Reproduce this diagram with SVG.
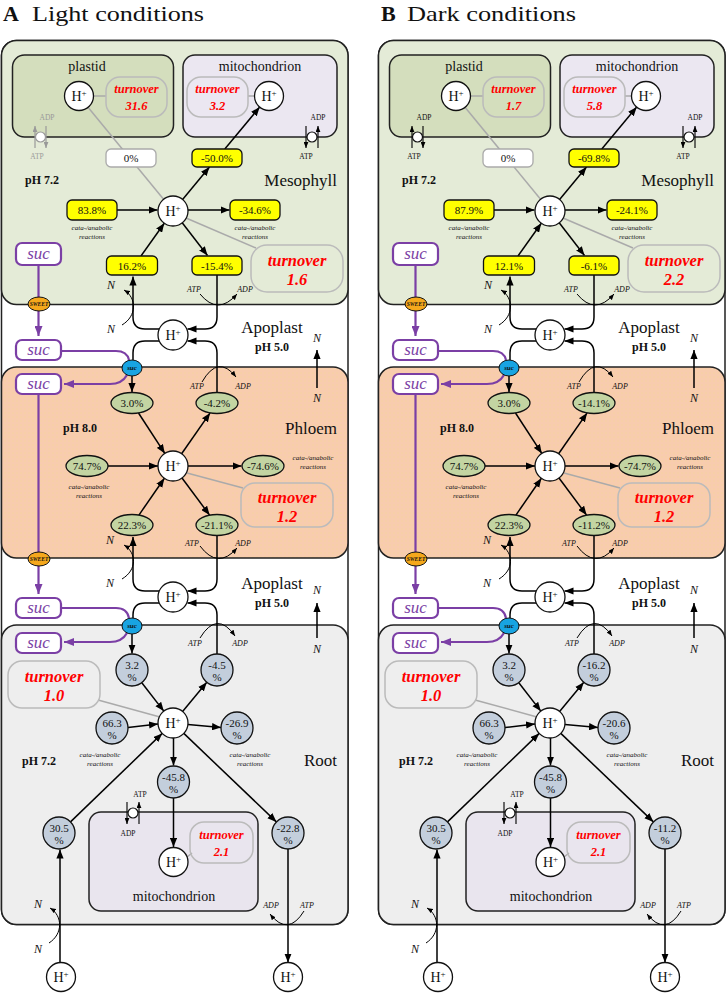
<svg xmlns="http://www.w3.org/2000/svg" width="726" height="993" viewBox="0 0 726 993">
<style>
text{font-family:"Liberation Serif","DejaVu Serif",serif;fill:#111}
.ti{font-size:22px}
.cmp{font-size:14px;text-anchor:middle}
.big{font-size:17px}
.ph{font-size:12px;font-weight:bold}
.v{font-size:11px;text-anchor:middle}
.ca{font-size:7px;font-style:italic;text-anchor:middle}
.n{font-size:12px;font-style:italic;text-anchor:middle}
.at{font-size:8px;font-style:italic;text-anchor:middle}
.tp{font-size:7.5px;text-anchor:middle}
.h{font-size:14px;text-anchor:middle}
.ts{font-size:12.5px;font-weight:bold;font-style:italic;fill:#f00;text-anchor:middle}
.tb{font-size:16.5px;font-weight:bold;font-style:italic;fill:#f00;text-anchor:middle}
.su{font-size:17px;font-style:italic;fill:#7b3fa5;text-anchor:middle}
.ss{font-size:5.5px;font-style:italic;font-weight:bold;text-anchor:middle}
.sb{font-size:7px;font-style:italic;font-weight:bold;text-anchor:middle}
.hc{fill:#fff;stroke:#111;stroke-width:1.3}
.yb{fill:#ffff00;stroke:#111;stroke-width:1.3}
.gb{fill:#fff;stroke:#aaa;stroke-width:1.3}
.ge{fill:#c3d4a2;stroke:#111;stroke-width:1.3}
.bc{fill:#c3cedc;stroke:#111;stroke-width:1.3}
.tob{fill:none;stroke:#bbb;stroke-width:1.5}
.c{fill:none;stroke:#000;stroke-width:1.5}
.ar{fill:none;stroke:#000;stroke-width:1}
.gl{fill:none;stroke:#aaa;stroke-width:1.5}
.pu{fill:none;stroke:#7b3fa5;stroke-width:2.2}
.pb{fill:#fff;stroke:#7b3fa5;stroke-width:2.2}
.bd{stroke:#222;stroke-width:1.5}
</style>
<defs>
<marker id="a" viewBox="0 0 10 8" refX="10" refY="4" markerWidth="9" markerHeight="7.5" markerUnits="userSpaceOnUse" orient="auto"><path d="M0,0L10,4L0,8z" fill="#000"/></marker>
<marker id="s" viewBox="0 0 10 8" refX="10" refY="4" markerWidth="6" markerHeight="5" markerUnits="userSpaceOnUse" orient="auto"><path d="M0,0L10,4L0,8z" fill="#000"/></marker>
<marker id="g" viewBox="0 0 10 8" refX="10" refY="4" markerWidth="6" markerHeight="5" markerUnits="userSpaceOnUse" orient="auto"><path d="M0,0L10,4L0,8z" fill="#999"/></marker>
<marker id="p" viewBox="0 0 10 8" refX="10" refY="4" markerWidth="10" markerHeight="8" markerUnits="userSpaceOnUse" orient="auto"><path d="M0,0L10,4L0,8z" fill="#7b3fa5"/></marker>
<pattern id="dots" width="4" height="4" patternUnits="userSpaceOnUse"><rect width="4" height="4" fill="#f8ccae"/><circle cx="1" cy="1" r="0.45" fill="#f3e27a"/></pattern>
</defs>
<rect width="726" height="993" fill="#fff"/>
<text class="ti" x="3" y="21" font-weight="bold">A</text>
<text class="ti" x="32" y="21" textLength="172" lengthAdjust="spacingAndGlyphs">Light conditions</text>
<text class="ti" x="381" y="21" font-weight="bold">B</text>
<text class="ti" x="407" y="21" textLength="169" lengthAdjust="spacingAndGlyphs">Dark conditions</text>

<!-- ================= PANEL A ================= -->
<g id="panelA">
<g id="A-compartments">
<rect class="bd" x="1.5" y="40.5" width="346.5" height="884" rx="15" fill="#fff"/>
<rect class="bd" x="1.5" y="40.5" width="346.5" height="264" rx="15" fill="#e4ebd7"/>
<rect class="bd" x="1.5" y="367" width="346.5" height="191" rx="15" fill="url(#dots)"/>
<rect class="bd" x="1.5" y="625" width="346.5" height="299.5" rx="15" fill="#eeeeee"/>
<rect class="bd" x="12.5" y="55" width="161" height="82" rx="12" fill="#d4debd"/>
<rect class="bd" x="183" y="55" width="154" height="82" rx="12" fill="#ebe7f1"/>
<rect class="bd" x="89" y="812" width="169" height="99" rx="12" fill="#e9e5ee"/>
<text class="cmp" x="87" y="71">plastid</text>
<text class="cmp" x="260" y="71">mitochondrion</text>
<text class="cmp" x="174" y="901">mitochondrion</text>
<text class="ph" x="25" y="184">pH 7.2</text>
<text class="big" x="337" y="186" text-anchor="end">Mesophyll</text>
<text class="big" x="272" y="333" text-anchor="middle">Apoplast</text>
<text class="ph" x="272" y="351" text-anchor="middle">pH 5.0</text>
<text class="ph" x="63" y="432">pH 8.0</text>
<text class="big" x="337" y="434" text-anchor="end">Phloem</text>
<text class="big" x="272" y="589" text-anchor="middle">Apoplast</text>
<text class="ph" x="272" y="607" text-anchor="middle">pH 5.0</text>
<text class="ph" x="22" y="765">pH 7.2</text>
<text class="big" x="337" y="766" text-anchor="end">Root</text>
</g>
<g id="A-connectors">
<line class="gl" x1="87" y1="106" x2="165" y2="201"/>
<line class="gl" x1="93.5" y1="96" x2="106" y2="96"/>
<line class="gl" x1="248" y1="96" x2="254.5" y2="96"/>
<line class="gl" x1="186" y1="218" x2="256" y2="248"/>
<line class="gl" x1="187" y1="473" x2="243" y2="488"/>
<line class="gl" x1="98" y1="700" x2="160" y2="717"/>
<line class="gl" x1="187" y1="857" x2="192" y2="853"/>
<path class="c" d="M182.6,199.5L209.5,167" marker-end="url(#a)"/>
<path class="c" d="M224.8,149L259.7,107.1" marker-end="url(#a)"/>
<path class="c" d="M117,210H157.5" marker-end="url(#a)"/>
<path class="c" d="M188,210H229.5" marker-end="url(#a)"/>
<path class="c" d="M141,256L164.3,223.2" marker-end="url(#a)"/>
<path class="c" d="M182.2,222.8L207.5,255.5" marker-end="url(#a)"/>
<path class="c" d="M159,329H145Q133,329 133,317V276.5" marker-end="url(#a)"/>
<path class="c" d="M217,275V317Q217,329 205,329H187.5" marker-end="url(#a)"/>
<path class="c" d="M159,341H145Q133,341 133,353V360"/>
<path class="c" d="M217,392.5V353Q217,341 205,341H187.5" marker-end="url(#a)"/>
<path class="c" d="M132,376V392" marker-end="url(#a)"/>
<path class="c" d="M138.5,413L164.8,453.4" marker-end="url(#a)"/>
<path class="c" d="M181.6,453.7L210.1,412.9" marker-end="url(#a)"/>
<path class="c" d="M108,466H158" marker-end="url(#a)"/>
<path class="c" d="M188,466H241.5" marker-end="url(#a)"/>
<path class="c" d="M138.9,515.1L164.4,478.3" marker-end="url(#a)"/>
<path class="c" d="M182,478L209.6,515.1" marker-end="url(#a)"/>
<path class="c" d="M159,591H145Q133,591 133,579V537" marker-end="url(#a)"/>
<path class="c" d="M217,535.5V579Q217,591 205,591H187.5" marker-end="url(#a)"/>
<path class="c" d="M159,603H145Q133,603 133,615V618"/>
<path class="c" d="M217,654V615Q217,603 205,603H187.5" marker-end="url(#a)"/>
<path class="c" d="M132,634V653.5" marker-end="url(#a)"/>
<path class="c" d="M141.8,682.7L163.8,711.1" marker-end="url(#a)"/>
<path class="c" d="M182.6,711.5L206.8,682.3" marker-end="url(#a)"/>
<path class="c" d="M128,727.5L158,724" marker-end="url(#a)"/>
<path class="c" d="M188,724.5L221,727.5" marker-end="url(#a)"/>
<path class="c" d="M173.5,738V765.5" marker-end="url(#a)"/>
<path class="c" d="M173.5,798V847" marker-end="url(#a)"/>
<path class="c" d="M70.5,821.9L162.2,733.4" marker-end="url(#a)"/>
<path class="c" d="M183.8,733.4L276.4,821.9" marker-end="url(#a)"/>
<path class="c" d="M60,963V849.5" marker-end="url(#a)"/>
<path class="c" d="M288,849V962.5" marker-end="url(#a)"/>
<path class="c" d="M317,388V350" marker-end="url(#a)"/>
<path class="c" d="M317,638V603" marker-end="url(#a)"/>
<path class="ar" d="M200,294Q218,316 237,294" marker-end="url(#s)"/>
<path class="ar" d="M202,382Q218,354 236,377" marker-end="url(#s)"/>
<path class="ar" d="M200,546Q218,570 237,548" marker-end="url(#s)"/>
<path class="ar" d="M200,638Q217,610 235,636" marker-end="url(#s)"/>
<path class="ar" d="M304,911Q288,937 270,914" marker-end="url(#s)"/>
<path class="ar" d="M122,325C137,316 137,298 124,290" marker-end="url(#s)"/>
<path class="ar" d="M122,579C137,570 137,553 124,545" marker-end="url(#s)"/>
<path class="ar" d="M49,943C63,934 63,916 50,908" marker-end="url(#s)"/>
<path class="pu" d="M38.5,265V336" marker-end="url(#p)"/>
<path class="pu" d="M61,351H116Q127,351 129,360"/>
<path class="pu" d="M127,375Q122,384 110,384H64" marker-end="url(#p)"/>
<path class="pu" d="M38.5,394V594" marker-end="url(#p)"/>
<path class="pu" d="M61,608H116Q127,608 129,618"/>
<path class="pu" d="M127,633Q122,642 110,642H64" marker-end="url(#p)"/>
</g>
<g id="A-labels">
<text class="n" x="111" y="289">N</text><text class="n" x="111" y="333">N</text>
<text class="n" x="110" y="544">N</text><text class="n" x="110" y="587">N</text>
<text class="n" x="38" y="908">N</text><text class="n" x="38" y="953">N</text>
<text class="n" x="317" y="342">N</text><text class="n" x="317" y="402">N</text>
<text class="n" x="317" y="594">N</text><text class="n" x="317" y="653">N</text>
<text class="at" x="194" y="292">ATP</text><text class="at" x="245" y="292">ADP</text>
<text class="at" x="197" y="389">ATP</text><text class="at" x="243" y="389">ADP</text>
<text class="at" x="192" y="546">ATP</text><text class="at" x="243" y="546">ADP</text>
<text class="at" x="195" y="646">ATP</text><text class="at" x="240" y="646">ADP</text>
<text class="at" x="271" y="908">ADP</text><text class="at" x="307" y="908">ATP</text>
<text class="ca" x="92" y="230">cata-/anabolic</text><text class="ca" x="92" y="239">reactions</text>
<text class="ca" x="255" y="230">cata-/anabolic</text><text class="ca" x="255" y="239">reactions</text>
<text class="ca" x="89" y="489">cata-/anabolic</text><text class="ca" x="89" y="498">reactions</text>
<text class="ca" x="313" y="460">cata-/anabolic</text><text class="ca" x="313" y="469">reactions</text>
<text class="ca" x="100" y="757">cata-/anabolic</text><text class="ca" x="100" y="766">reactions</text>
<text class="ca" x="250" y="757">cata-/anabolic</text><text class="ca" x="250" y="766">reactions</text>
</g>
<g id="A-transporters">
<g id="A-tp-plastid" stroke="#999" stroke-width="1.2"><line x1="35" y1="148" x2="35" y2="126" marker-end="url(#g)"/><line x1="46" y1="126" x2="46" y2="148" marker-end="url(#g)"/><circle cx="40.5" cy="137" r="5" fill="#fff"/></g>
<text class="tp" x="47" y="120" style="fill:#999">ADP</text><text class="tp" x="37" y="159" style="fill:#999">ATP</text>
<g id="A-tp-mito" stroke="#111" stroke-width="1.2"><line x1="306" y1="126" x2="306" y2="148" marker-end="url(#s)"/><line x1="318" y1="148" x2="318" y2="126" marker-end="url(#s)"/><circle cx="312" cy="137" r="5" fill="#fff"/></g>
<text class="tp" x="318" y="120">ADP</text><text class="tp" x="306" y="159">ATP</text>
<g id="A-tp-root" stroke="#111" stroke-width="1.2"><line x1="127" y1="802" x2="127" y2="824" marker-end="url(#s)"/><line x1="139" y1="824" x2="139" y2="802" marker-end="url(#s)"/><circle cx="133" cy="813" r="5" fill="#fff"/></g>
<text class="tp" x="140" y="797">ATP</text><text class="tp" x="128" y="836">ADP</text>
</g>
<g id="A-nodes">
<g id="A-hp"><circle class="hc" cx="79" cy="96" r="14.5"/><text class="h" x="79" y="101">H<tspan font-size="9" dy="-5">+</tspan></text></g>
<g id="A-tp"><rect class="tob" x="106" y="77" width="61" height="40" rx="14"/><text class="ts" x="136.5" y="93">turnover</text><text class="ts" x="136.5" y="110">31.6</text></g>
<g id="A-tm"><rect class="tob" x="187" y="77" width="61" height="40" rx="14"/><text class="ts" x="217.5" y="93">turnover</text><text class="ts" x="217.5" y="110">3.2</text></g>
<g id="A-hm"><circle class="hc" cx="269" cy="96" r="14.5"/><text class="h" x="269" y="101">H<tspan font-size="9" dy="-5">+</tspan></text></g>
<g id="A-b0"><rect class="gb" x="106" y="149" width="50" height="18" rx="5"/><text class="v" x="131" y="162">0%</text></g>
<g id="A-b1"><rect class="yb" x="192" y="149" width="50" height="18" rx="5"/><text class="v" x="217" y="162">-50.0%</text></g>
<g id="A-b2"><rect class="yb" x="67" y="200" width="50" height="20" rx="5"/><text class="v" x="92" y="214">83.8%</text></g>
<g id="A-b3"><rect class="yb" x="230" y="200" width="50" height="20" rx="5"/><text class="v" x="255" y="214">-34.6%</text></g>
<g id="A-b4"><rect class="yb" x="106.5" y="256" width="51" height="19" rx="5"/><text class="v" x="132" y="270">16.2%</text></g>
<g id="A-b5"><rect class="yb" x="192" y="256" width="50" height="19" rx="5"/><text class="v" x="217" y="270">-15.4%</text></g>
<g id="A-hmes"><circle class="hc" cx="173" cy="211" r="15"/><text class="h" x="173" y="216">H<tspan font-size="9" dy="-5">+</tspan></text></g>
<g id="A-tmes"><rect class="tob" x="251" y="245" width="92" height="47" rx="16"/><text class="tb" x="297" y="266">turnover</text><text class="tb" x="297" y="285">1.6</text></g>
<g id="A-ha1"><circle class="hc" cx="173" cy="335" r="15"/><text class="h" x="173" y="340">H<tspan font-size="9" dy="-5">+</tspan></text></g>
<g id="A-e1"><ellipse class="ge" cx="132" cy="403" rx="21" ry="10.5"/><text class="v" x="132" y="407">3.0%</text></g>
<g id="A-e2"><ellipse class="ge" cx="217" cy="403" rx="21" ry="10.5"/><text class="v" x="217" y="407">-4.2%</text></g>
<g id="A-e3"><ellipse class="ge" cx="87" cy="466" rx="21" ry="10.5"/><text class="v" x="87" y="470">74.7%</text></g>
<g id="A-e4"><ellipse class="ge" cx="263" cy="466" rx="21" ry="10.5"/><text class="v" x="263" y="470">-74.6%</text></g>
<g id="A-e5"><ellipse class="ge" cx="132" cy="525" rx="21" ry="10.5"/><text class="v" x="132" y="529">22.3%</text></g>
<g id="A-e6"><ellipse class="ge" cx="217" cy="525" rx="21" ry="10.5"/><text class="v" x="217" y="529">-21.1%</text></g>
<g id="A-hph"><circle class="hc" cx="173" cy="466" r="15"/><text class="h" x="173" y="471">H<tspan font-size="9" dy="-5">+</tspan></text></g>
<g id="A-tph"><rect class="tob" x="241" y="483" width="92" height="44" rx="14"/><text class="tb" x="287" y="503">turnover</text><text class="tb" x="287" y="522">1.2</text></g>
<g id="A-ha2"><circle class="hc" cx="173" cy="597" r="15"/><text class="h" x="173" y="602">H<tspan font-size="9" dy="-5">+</tspan></text></g>
<g id="A-troot"><rect class="tob" x="8" y="661" width="92" height="47" rx="14"/><text class="tb" x="54" y="682">turnover</text><text class="tb" x="54" y="701">1.0</text></g>
<g id="A-c1"><circle class="bc" cx="132" cy="670" r="16"/><text class="v" x="132" y="668.5">3.2</text><text class="v" x="132" y="681">%</text></g>
<g id="A-c2"><circle class="bc" cx="217" cy="670" r="16"/><text class="v" x="217" y="668.5">-4.5</text><text class="v" x="217" y="681">%</text></g>
<g id="A-c3"><circle class="bc" cx="112" cy="728" r="16"/><text class="v" x="112" y="726.5">66.3</text><text class="v" x="112" y="739">%</text></g>
<g id="A-c4"><circle class="bc" cx="237" cy="728" r="16"/><text class="v" x="237" y="726.5">-26.9</text><text class="v" x="237" y="739">%</text></g>
<g id="A-c5"><circle class="bc" cx="173.5" cy="782" r="16"/><text class="v" x="173.5" y="780.5">-45.8</text><text class="v" x="173.5" y="793">%</text></g>
<g id="A-c6"><circle class="bc" cx="59" cy="833" r="16"/><text class="v" x="59" y="831.5">30.5</text><text class="v" x="59" y="844">%</text></g>
<g id="A-c7"><circle class="bc" cx="288" cy="833" r="16"/><text class="v" x="288" y="831.5">-22.8</text><text class="v" x="288" y="844">%</text></g>
<g id="A-hroot"><circle class="hc" cx="173" cy="723" r="15"/><text class="h" x="173" y="728">H<tspan font-size="9" dy="-5">+</tspan></text></g>
<g id="A-hrm"><circle class="hc" cx="173.5" cy="862" r="14.5"/><text class="h" x="173.5" y="867">H<tspan font-size="9" dy="-5">+</tspan></text></g>
<g id="A-trm"><rect class="tob" x="190" y="822" width="63" height="41" rx="14"/><text class="ts" x="221.5" y="839">turnover</text><text class="ts" x="221.5" y="856">2.1</text></g>
<g id="A-hb1"><circle class="hc" cx="61" cy="977" r="14.5"/><text class="h" x="61" y="982">H<tspan font-size="9" dy="-5">+</tspan></text></g>
<g id="A-hb2"><circle class="hc" cx="288" cy="977" r="14.5"/><text class="h" x="288" y="982">H<tspan font-size="9" dy="-5">+</tspan></text></g>
<g id="A-suc1"><rect class="pb" x="16" y="243" width="45" height="22" rx="6"/><text class="su" x="38.5" y="259">suc</text></g>
<g id="A-suc2"><rect class="pb" x="16" y="340" width="45" height="20" rx="6"/><text class="su" x="38.5" y="355">suc</text></g>
<g id="A-suc3"><rect class="pb" x="16" y="374" width="45" height="20" rx="6"/><text class="su" x="38.5" y="389">suc</text></g>
<g id="A-suc4"><rect class="pb" x="16" y="598" width="45" height="20" rx="6"/><text class="su" x="38.5" y="613">suc</text></g>
<g id="A-suc5"><rect class="pb" x="16" y="633" width="45" height="20" rx="6"/><text class="su" x="38.5" y="648">suc</text></g>
<g id="A-sw1"><ellipse cx="39" cy="304" rx="11" ry="7" fill="#f5a81c" stroke="#111"/><text class="ss" x="39" y="306">SWEET</text></g>
<g id="A-sw2"><ellipse cx="39" cy="559" rx="11" ry="7" fill="#f5a81c" stroke="#111"/><text class="ss" x="39" y="561">SWEET</text></g>
<g id="A-st1"><ellipse cx="132" cy="368" rx="10" ry="8" fill="#18a4e2" stroke="#111"/><text class="sb" x="132" y="370">suc</text></g>
<g id="A-st2"><ellipse cx="132" cy="626" rx="10" ry="8" fill="#18a4e2" stroke="#111"/><text class="sb" x="132" y="628">suc</text></g>
</g>
</g>

<!-- ================= PANEL B ================= -->
<g id="panelB" transform="translate(377,0)">
<g id="B-compartments">
<rect class="bd" x="1.5" y="40.5" width="346.5" height="884" rx="15" fill="#fff"/>
<rect class="bd" x="1.5" y="40.5" width="346.5" height="264" rx="15" fill="#e4ebd7"/>
<rect class="bd" x="1.5" y="367" width="346.5" height="191" rx="15" fill="url(#dots)"/>
<rect class="bd" x="1.5" y="625" width="346.5" height="299.5" rx="15" fill="#eeeeee"/>
<rect class="bd" x="12.5" y="55" width="161" height="82" rx="12" fill="#d4debd"/>
<rect class="bd" x="183" y="55" width="154" height="82" rx="12" fill="#ebe7f1"/>
<rect class="bd" x="89" y="812" width="169" height="99" rx="12" fill="#e9e5ee"/>
<text class="cmp" x="87" y="71">plastid</text>
<text class="cmp" x="260" y="71">mitochondrion</text>
<text class="cmp" x="174" y="901">mitochondrion</text>
<text class="ph" x="25" y="184">pH 7.2</text>
<text class="big" x="337" y="186" text-anchor="end">Mesophyll</text>
<text class="big" x="272" y="333" text-anchor="middle">Apoplast</text>
<text class="ph" x="272" y="351" text-anchor="middle">pH 5.0</text>
<text class="ph" x="63" y="432">pH 8.0</text>
<text class="big" x="337" y="434" text-anchor="end">Phloem</text>
<text class="big" x="272" y="589" text-anchor="middle">Apoplast</text>
<text class="ph" x="272" y="607" text-anchor="middle">pH 5.0</text>
<text class="ph" x="22" y="765">pH 7.2</text>
<text class="big" x="337" y="766" text-anchor="end">Root</text>
</g>
<g id="B-connectors">
<line class="gl" x1="87" y1="106" x2="165" y2="201"/>
<line class="gl" x1="93.5" y1="96" x2="106" y2="96"/>
<line class="gl" x1="248" y1="96" x2="254.5" y2="96"/>
<line class="gl" x1="186" y1="218" x2="256" y2="248"/>
<line class="gl" x1="187" y1="473" x2="243" y2="488"/>
<line class="gl" x1="98" y1="700" x2="160" y2="717"/>
<line class="gl" x1="187" y1="857" x2="192" y2="853"/>
<path class="c" d="M182.6,199.5L209.5,167" marker-end="url(#a)"/>
<path class="c" d="M224.8,149L259.7,107.1" marker-end="url(#a)"/>
<path class="c" d="M117,210H157.5" marker-end="url(#a)"/>
<path class="c" d="M188,210H229.5" marker-end="url(#a)"/>
<path class="c" d="M141,256L164.3,223.2" marker-end="url(#a)"/>
<path class="c" d="M182.2,222.8L207.5,255.5" marker-end="url(#a)"/>
<path class="c" d="M159,329H145Q133,329 133,317V276.5" marker-end="url(#a)"/>
<path class="c" d="M217,275V317Q217,329 205,329H187.5" marker-end="url(#a)"/>
<path class="c" d="M159,341H145Q133,341 133,353V360"/>
<path class="c" d="M217,392.5V353Q217,341 205,341H187.5" marker-end="url(#a)"/>
<path class="c" d="M132,376V392" marker-end="url(#a)"/>
<path class="c" d="M138.5,413L164.8,453.4" marker-end="url(#a)"/>
<path class="c" d="M181.6,453.7L210.1,412.9" marker-end="url(#a)"/>
<path class="c" d="M108,466H158" marker-end="url(#a)"/>
<path class="c" d="M188,466H241.5" marker-end="url(#a)"/>
<path class="c" d="M138.9,515.1L164.4,478.3" marker-end="url(#a)"/>
<path class="c" d="M182,478L209.6,515.1" marker-end="url(#a)"/>
<path class="c" d="M159,591H145Q133,591 133,579V537" marker-end="url(#a)"/>
<path class="c" d="M217,535.5V579Q217,591 205,591H187.5" marker-end="url(#a)"/>
<path class="c" d="M159,603H145Q133,603 133,615V618"/>
<path class="c" d="M217,654V615Q217,603 205,603H187.5" marker-end="url(#a)"/>
<path class="c" d="M132,634V653.5" marker-end="url(#a)"/>
<path class="c" d="M141.8,682.7L163.8,711.1" marker-end="url(#a)"/>
<path class="c" d="M182.6,711.5L206.8,682.3" marker-end="url(#a)"/>
<path class="c" d="M128,727.5L158,724" marker-end="url(#a)"/>
<path class="c" d="M188,724.5L221,727.5" marker-end="url(#a)"/>
<path class="c" d="M173.5,738V765.5" marker-end="url(#a)"/>
<path class="c" d="M173.5,798V847" marker-end="url(#a)"/>
<path class="c" d="M70.5,821.9L162.2,733.4" marker-end="url(#a)"/>
<path class="c" d="M183.8,733.4L276.4,821.9" marker-end="url(#a)"/>
<path class="c" d="M60,963V849.5" marker-end="url(#a)"/>
<path class="c" d="M288,849V962.5" marker-end="url(#a)"/>
<path class="c" d="M317,388V350" marker-end="url(#a)"/>
<path class="c" d="M317,638V603" marker-end="url(#a)"/>
<path class="ar" d="M200,294Q218,316 237,294" marker-end="url(#s)"/>
<path class="ar" d="M202,382Q218,354 236,377" marker-end="url(#s)"/>
<path class="ar" d="M200,546Q218,570 237,548" marker-end="url(#s)"/>
<path class="ar" d="M200,638Q217,610 235,636" marker-end="url(#s)"/>
<path class="ar" d="M304,911Q288,937 270,914" marker-end="url(#s)"/>
<path class="ar" d="M122,325C137,316 137,298 124,290" marker-end="url(#s)"/>
<path class="ar" d="M122,579C137,570 137,553 124,545" marker-end="url(#s)"/>
<path class="ar" d="M49,943C63,934 63,916 50,908" marker-end="url(#s)"/>
<path class="pu" d="M38.5,265V336" marker-end="url(#p)"/>
<path class="pu" d="M61,351H116Q127,351 129,360"/>
<path class="pu" d="M127,375Q122,384 110,384H64" marker-end="url(#p)"/>
<path class="pu" d="M38.5,394V594" marker-end="url(#p)"/>
<path class="pu" d="M61,608H116Q127,608 129,618"/>
<path class="pu" d="M127,633Q122,642 110,642H64" marker-end="url(#p)"/>
</g>
<g id="B-labels">
<text class="n" x="111" y="289">N</text><text class="n" x="111" y="333">N</text>
<text class="n" x="110" y="544">N</text><text class="n" x="110" y="587">N</text>
<text class="n" x="38" y="908">N</text><text class="n" x="38" y="953">N</text>
<text class="n" x="317" y="342">N</text><text class="n" x="317" y="402">N</text>
<text class="n" x="317" y="594">N</text><text class="n" x="317" y="653">N</text>
<text class="at" x="194" y="292">ATP</text><text class="at" x="245" y="292">ADP</text>
<text class="at" x="197" y="389">ATP</text><text class="at" x="243" y="389">ADP</text>
<text class="at" x="192" y="546">ATP</text><text class="at" x="243" y="546">ADP</text>
<text class="at" x="195" y="646">ATP</text><text class="at" x="240" y="646">ADP</text>
<text class="at" x="271" y="908">ADP</text><text class="at" x="307" y="908">ATP</text>
<text class="ca" x="92" y="230">cata-/anabolic</text><text class="ca" x="92" y="239">reactions</text>
<text class="ca" x="255" y="230">cata-/anabolic</text><text class="ca" x="255" y="239">reactions</text>
<text class="ca" x="89" y="489">cata-/anabolic</text><text class="ca" x="89" y="498">reactions</text>
<text class="ca" x="313" y="460">cata-/anabolic</text><text class="ca" x="313" y="469">reactions</text>
<text class="ca" x="100" y="757">cata-/anabolic</text><text class="ca" x="100" y="766">reactions</text>
<text class="ca" x="250" y="757">cata-/anabolic</text><text class="ca" x="250" y="766">reactions</text>
</g>
<g id="B-transporters">
<g id="B-tp-plastid" stroke="#111" stroke-width="1.2"><line x1="35" y1="148" x2="35" y2="126" marker-end="url(#s)"/><line x1="46" y1="126" x2="46" y2="148" marker-end="url(#s)"/><circle cx="40.5" cy="137" r="5" fill="#fff"/></g>
<text class="tp" x="47" y="120">ADP</text><text class="tp" x="37" y="159">ATP</text>
<g id="B-tp-mito" stroke="#111" stroke-width="1.2"><line x1="306" y1="126" x2="306" y2="148" marker-end="url(#s)"/><line x1="318" y1="148" x2="318" y2="126" marker-end="url(#s)"/><circle cx="312" cy="137" r="5" fill="#fff"/></g>
<text class="tp" x="318" y="120">ADP</text><text class="tp" x="306" y="159">ATP</text>
<g id="B-tp-root" stroke="#111" stroke-width="1.2"><line x1="127" y1="802" x2="127" y2="824" marker-end="url(#s)"/><line x1="139" y1="824" x2="139" y2="802" marker-end="url(#s)"/><circle cx="133" cy="813" r="5" fill="#fff"/></g>
<text class="tp" x="140" y="797">ATP</text><text class="tp" x="128" y="836">ADP</text>
</g>
<g id="B-nodes">
<g id="B-hp"><circle class="hc" cx="79" cy="96" r="14.5"/><text class="h" x="79" y="101">H<tspan font-size="9" dy="-5">+</tspan></text></g>
<g id="B-tp"><rect class="tob" x="106" y="77" width="61" height="40" rx="14"/><text class="ts" x="136.5" y="93">turnover</text><text class="ts" x="136.5" y="110">1.7</text></g>
<g id="B-tm"><rect class="tob" x="187" y="77" width="61" height="40" rx="14"/><text class="ts" x="217.5" y="93">turnover</text><text class="ts" x="217.5" y="110">5.8</text></g>
<g id="B-hm"><circle class="hc" cx="269" cy="96" r="14.5"/><text class="h" x="269" y="101">H<tspan font-size="9" dy="-5">+</tspan></text></g>
<g id="B-b0"><rect class="gb" x="106" y="149" width="50" height="18" rx="5"/><text class="v" x="131" y="162">0%</text></g>
<g id="B-b1"><rect class="yb" x="192" y="149" width="50" height="18" rx="5"/><text class="v" x="217" y="162">-69.8%</text></g>
<g id="B-b2"><rect class="yb" x="67" y="200" width="50" height="20" rx="5"/><text class="v" x="92" y="214">87.9%</text></g>
<g id="B-b3"><rect class="yb" x="230" y="200" width="50" height="20" rx="5"/><text class="v" x="255" y="214">-24.1%</text></g>
<g id="B-b4"><rect class="yb" x="106.5" y="256" width="51" height="19" rx="5"/><text class="v" x="132" y="270">12.1%</text></g>
<g id="B-b5"><rect class="yb" x="192" y="256" width="50" height="19" rx="5"/><text class="v" x="217" y="270">-6.1%</text></g>
<g id="B-hmes"><circle class="hc" cx="173" cy="211" r="15"/><text class="h" x="173" y="216">H<tspan font-size="9" dy="-5">+</tspan></text></g>
<g id="B-tmes"><rect class="tob" x="251" y="245" width="92" height="47" rx="16"/><text class="tb" x="297" y="266">turnover</text><text class="tb" x="297" y="285">2.2</text></g>
<g id="B-ha1"><circle class="hc" cx="173" cy="335" r="15"/><text class="h" x="173" y="340">H<tspan font-size="9" dy="-5">+</tspan></text></g>
<g id="B-e1"><ellipse class="ge" cx="132" cy="403" rx="21" ry="10.5"/><text class="v" x="132" y="407">3.0%</text></g>
<g id="B-e2"><ellipse class="ge" cx="217" cy="403" rx="21" ry="10.5"/><text class="v" x="217" y="407">-14.1%</text></g>
<g id="B-e3"><ellipse class="ge" cx="87" cy="466" rx="21" ry="10.5"/><text class="v" x="87" y="470">74.7%</text></g>
<g id="B-e4"><ellipse class="ge" cx="263" cy="466" rx="21" ry="10.5"/><text class="v" x="263" y="470">-74.7%</text></g>
<g id="B-e5"><ellipse class="ge" cx="132" cy="525" rx="21" ry="10.5"/><text class="v" x="132" y="529">22.3%</text></g>
<g id="B-e6"><ellipse class="ge" cx="217" cy="525" rx="21" ry="10.5"/><text class="v" x="217" y="529">-11.2%</text></g>
<g id="B-hph"><circle class="hc" cx="173" cy="466" r="15"/><text class="h" x="173" y="471">H<tspan font-size="9" dy="-5">+</tspan></text></g>
<g id="B-tph"><rect class="tob" x="241" y="483" width="92" height="44" rx="14"/><text class="tb" x="287" y="503">turnover</text><text class="tb" x="287" y="522">1.2</text></g>
<g id="B-ha2"><circle class="hc" cx="173" cy="597" r="15"/><text class="h" x="173" y="602">H<tspan font-size="9" dy="-5">+</tspan></text></g>
<g id="B-troot"><rect class="tob" x="8" y="661" width="92" height="47" rx="14"/><text class="tb" x="54" y="682">turnover</text><text class="tb" x="54" y="701">1.0</text></g>
<g id="B-c1"><circle class="bc" cx="132" cy="670" r="16"/><text class="v" x="132" y="668.5">3.2</text><text class="v" x="132" y="681">%</text></g>
<g id="B-c2"><circle class="bc" cx="217" cy="670" r="16"/><text class="v" x="217" y="668.5">-16.2</text><text class="v" x="217" y="681">%</text></g>
<g id="B-c3"><circle class="bc" cx="112" cy="728" r="16"/><text class="v" x="112" y="726.5">66.3</text><text class="v" x="112" y="739">%</text></g>
<g id="B-c4"><circle class="bc" cx="237" cy="728" r="16"/><text class="v" x="237" y="726.5">-20.6</text><text class="v" x="237" y="739">%</text></g>
<g id="B-c5"><circle class="bc" cx="173.5" cy="782" r="16"/><text class="v" x="173.5" y="780.5">-45.8</text><text class="v" x="173.5" y="793">%</text></g>
<g id="B-c6"><circle class="bc" cx="59" cy="833" r="16"/><text class="v" x="59" y="831.5">30.5</text><text class="v" x="59" y="844">%</text></g>
<g id="B-c7"><circle class="bc" cx="288" cy="833" r="16"/><text class="v" x="288" y="831.5">-11.2</text><text class="v" x="288" y="844">%</text></g>
<g id="B-hroot"><circle class="hc" cx="173" cy="723" r="15"/><text class="h" x="173" y="728">H<tspan font-size="9" dy="-5">+</tspan></text></g>
<g id="B-hrm"><circle class="hc" cx="173.5" cy="862" r="14.5"/><text class="h" x="173.5" y="867">H<tspan font-size="9" dy="-5">+</tspan></text></g>
<g id="B-trm"><rect class="tob" x="190" y="822" width="63" height="41" rx="14"/><text class="ts" x="221.5" y="839">turnover</text><text class="ts" x="221.5" y="856">2.1</text></g>
<g id="B-hb1"><circle class="hc" cx="61" cy="977" r="14.5"/><text class="h" x="61" y="982">H<tspan font-size="9" dy="-5">+</tspan></text></g>
<g id="B-hb2"><circle class="hc" cx="288" cy="977" r="14.5"/><text class="h" x="288" y="982">H<tspan font-size="9" dy="-5">+</tspan></text></g>
<g id="B-suc1"><rect class="pb" x="16" y="243" width="45" height="22" rx="6"/><text class="su" x="38.5" y="259">suc</text></g>
<g id="B-suc2"><rect class="pb" x="16" y="340" width="45" height="20" rx="6"/><text class="su" x="38.5" y="355">suc</text></g>
<g id="B-suc3"><rect class="pb" x="16" y="374" width="45" height="20" rx="6"/><text class="su" x="38.5" y="389">suc</text></g>
<g id="B-suc4"><rect class="pb" x="16" y="598" width="45" height="20" rx="6"/><text class="su" x="38.5" y="613">suc</text></g>
<g id="B-suc5"><rect class="pb" x="16" y="633" width="45" height="20" rx="6"/><text class="su" x="38.5" y="648">suc</text></g>
<g id="B-sw1"><ellipse cx="39" cy="304" rx="11" ry="7" fill="#f5a81c" stroke="#111"/><text class="ss" x="39" y="306">SWEET</text></g>
<g id="B-sw2"><ellipse cx="39" cy="559" rx="11" ry="7" fill="#f5a81c" stroke="#111"/><text class="ss" x="39" y="561">SWEET</text></g>
<g id="B-st1"><ellipse cx="132" cy="368" rx="10" ry="8" fill="#18a4e2" stroke="#111"/><text class="sb" x="132" y="370">suc</text></g>
<g id="B-st2"><ellipse cx="132" cy="626" rx="10" ry="8" fill="#18a4e2" stroke="#111"/><text class="sb" x="132" y="628">suc</text></g>
</g>
</g>
</svg>
